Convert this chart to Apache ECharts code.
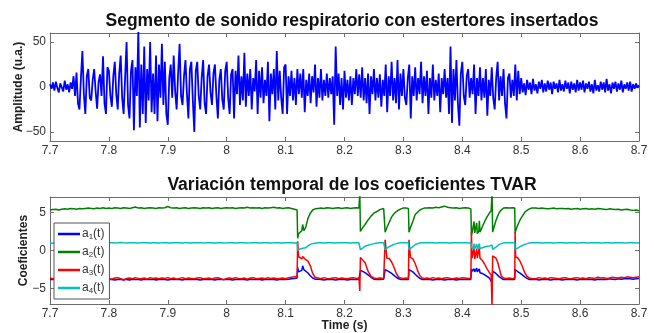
<!DOCTYPE html>
<html>
<head>
<meta charset="utf-8">
<script src="https://cdn.jsdelivr.net/npm/echarts@6/dist/echarts.min.js"></script>
<style>
  html, body { margin: 0; padding: 0; background: #fff; }
  #chart { width: 654px; height: 333px; }
</style>
</head>
<body>
<div id="chart"></div>
<script>
// señal respiratoria (muestreada cada 2.5 ms desde 7.7 s)
const timeStart = 7.7
const timeStep = 0.0025
const signal = [
  3,-2,5,-4,6,-1,-6,4,2,-5,7,-3,3,-6,5,-2,12,-10,16,-18,-25,10,40,-8,-30,12,20,-12,-15,8,20,-5,-24,6,14,-10,34,-18,-30,22,
  18,-10,-22,12,28,-8,-25,15,35,-12,-30,10,50,-20,-35,18,30,-48,22,-10,62,-45,25,-30,45,-40,20,-15,50,-28,15,-30,35,-38,25,-12,48,-20,28,-30,
  -42,10,25,-12,35,-5,-25,15,48,-10,-20,12,30,-8,-35,20,28,-15,-50,18,28,-10,-25,10,30,-18,-30,12,25,-6,-20,15,25,-10,-35,8,20,-14,-25,18,
  28,-12,-30,14,20,-35,18,-8,35,-20,12,-15,38,-22,15,-10,20,-25,10,-5,30,-30,18,-12,22,-18,8,-10,28,-38,15,-8,20,-25,40,-15,18,-12,-30,22,
  25,-30,12,-10,18,-15,10,-20,20,-8,15,-12,20,-28,8,-10,15,-18,12,-6,25,-22,10,-12,20,-15,8,-10,15,-12,10,-8,12,-42,45,-10,15,-20,10,-25,
  18,-12,8,-15,12,-20,10,-8,20,-10,14,-12,22,-15,10,-18,15,-30,12,-8,20,-15,10,-12,14,-22,8,-10,25,-28,12,-10,28,-15,10,-18,30,-25,15,-10,
  20,-12,-20,10,25,-35,12,-10,22,-15,10,-8,28,-18,12,-10,18,-30,10,-12,25,-15,8,-10,15,-28,10,-8,20,-12,10,-30,45,-40,20,-15,30,-18,-43,15,
  28,-10,-20,12,20,-12,10,-8,25,-30,10,-10,22,-15,10,-12,20,-32,8,-10,22,-12,-25,10,28,-15,12,-10,20,-18,-35,10,15,-12,8,-10,25,-15,18,-8,
  10,-6,4,-9,8,-3,5,-8,9,-4,3,-7,6,-2,8,-6,4,-5,7,-3,5,-8,6,-2,4,-6,8,-4,3,-5,7,-2,5,-7,6,-3,4,-6,8,-4,
  5,-3,7,-6,4,-2,6,-5,3,-7,8,-4,2,-5,6,-3,5,-6,9,-4,3,-7,5,-2,6,-5,4,-3,7,-6,3,-2,5,-4,6,-5,3,-2,4,-1,
  2
]

// coeficientes TVAR: instantes y valores
const tCoef = [
  7.7,7.705,7.71,7.715,7.72,7.725,7.73,7.735,7.74,7.745,
  7.75,7.755,7.76,7.765,7.77,7.775,7.78,7.785,7.79,7.795,
  7.8,7.805,7.81,7.815,7.82,7.825,7.83,7.835,7.84,7.845,
  7.85,7.855,7.86,7.865,7.87,7.875,7.88,7.885,7.89,7.895,
  7.9,7.905,7.91,7.915,7.92,7.925,7.93,7.935,7.94,7.945,
  7.95,7.955,7.96,7.965,7.97,7.975,7.98,7.985,7.99,7.995,
  8,8.005,8.01,8.015,8.02,8.025,8.03,8.035,8.04,8.045,
  8.05,8.055,8.06,8.065,8.07,8.075,8.08,8.085,8.09,8.095,
  8.1,8.105,8.11,8.115,
  8.118,8.1195,8.1205,8.122,8.125,8.1275,8.129,8.131,8.134,8.138,8.142,8.146,8.15,
  8.155,8.16,8.165,8.17,8.175,8.18,8.185,8.19,8.195,8.2,8.205,8.21,8.215,8.22,
  8.2245,8.226,8.227,8.23,8.235,8.24,8.245,8.25,8.255,8.26,8.2665,
  8.268,8.269,8.272,8.276,8.28,8.284,8.288,8.292,8.296,8.3,
  8.304,8.3085,
  8.3095,8.312,8.316,8.32,8.324,8.328,8.332,8.336,
  8.34,8.345,8.35,8.355,8.36,8.365,8.37,8.375,8.38,8.385,8.39,8.395,8.4,8.405,8.41,
  8.4145,8.4155,8.4165,8.419,8.42,8.421,8.4235,8.4245,8.4255,8.428,8.429,8.43,8.434,8.438,8.442,8.446,8.449,8.4505,8.4515,8.454,8.457,8.46,8.463,8.466,8.47,
  8.475,8.48,8.485,8.489,
  8.4897,8.4905,8.494,8.498,8.502,8.506,8.51,8.514,8.518,
  8.52,8.525,8.53,8.535,8.54,8.545,8.55,8.555,8.56,8.565,
  8.57,8.575,8.58,8.585,8.59,8.595,8.6,8.605,8.61,8.615,
  8.62,8.625,8.63,8.635,8.64,8.645,8.65,8.655,8.66,8.665,
  8.67,8.675,8.68,8.685,8.69,8.695,8.7
]

const a1 = [
  -3.8,-3.75,-3.85,-3.8,-3.75,-3.8,-3.85,-3.8,-3.75,-3.8,
  -3.85,-3.8,-3.75,-3.8,-3.85,-3.8,-3.8,-3.75,-3.85,-3.8,
  -3.75,-3.8,-3.85,-3.8,-3.75,-3.8,-3.8,-3.85,-3.75,-3.8,
  -3.8,-3.85,-3.75,-3.8,-3.8,-3.75,-3.85,-3.8,-3.75,-3.8,
  -3.85,-3.8,-3.75,-3.8,-3.8,-3.85,-3.75,-3.8,-3.8,-3.75,
  -3.8,-3.85,-3.8,-3.75,-3.8,-3.8,-3.85,-3.75,-3.8,-3.8,
  -3.75,-3.8,-3.85,-3.8,-3.75,-3.8,-3.8,-3.85,-3.75,-3.8,
  -3.8,-3.75,-3.85,-3.8,-3.8,-3.75,-3.8,-3.85,-3.8,-3.75,
  -3.8,-3.75,-3.7,-3.65,
  -3.65,-3.6,-2.2,-2.8,-2.75,-2.6,-2.0,-2.5,-2.7,-2.95,-3.3,-3.6,-3.75,
  -3.75,-3.8,-3.85,-3.8,-3.75,-3.8,-3.85,-3.8,-3.75,-3.8,-3.85,-3.8,-3.75,-3.8,
  -3.8,-4.0,-2.6,-2.7,-2.9,-3.2,-3.5,-3.75,-3.8,-3.8,-3.75,
  -3.8,-2.5,-2.6,-2.8,-3.0,-3.25,-3.5,-3.7,-3.8,-3.8,
  -3.75,-3.8,
  -2.5,-2.6,-2.8,-3.1,-3.4,-3.65,-3.8,-3.8,
  -3.75,-3.8,-3.85,-3.8,-3.75,-3.8,-3.85,-3.8,-3.75,-3.8,-3.85,-3.8,-3.75,-3.8,-3.8,
  -3.8,-2.4,-2.7,-2.8,-2.4,-2.8,-2.75,-2.3,-2.8,-2.7,-2.4,-2.9,-3.0,-3.2,-3.4,-3.6,-3.7,-4.2,-2.7,-2.8,-3.0,-3.2,-3.45,-3.65,-3.8,
  -3.8,-3.75,-3.8,-3.8,
  -2.5,-2.6,-2.75,-2.95,-3.2,-3.45,-3.65,-3.8,-3.8,
  -3.8,-3.75,-3.85,-3.8,-3.75,-3.8,-3.85,-3.8,-3.75,-3.8,
  -3.85,-3.8,-3.75,-3.8,-3.8,-3.85,-3.75,-3.8,-3.8,-3.75,
  -3.8,-3.85,-3.75,-3.8,-3.75,-3.8,-3.7,-3.75,-3.8,-3.7,
  -3.75,-3.7,-3.65,-3.7,-3.75,-3.7,-3.65
]

const a2 = [
  5.3,5.35,5.4,5.3,5.4,5.45,5.4,5.5,5.45,5.4,
  5.5,5.45,5.5,5.55,5.5,5.45,5.55,5.5,5.6,5.5,
  5.55,5.5,5.6,5.55,5.5,5.6,5.55,5.5,5.6,5.7,
  5.55,5.6,5.5,5.55,5.6,5.55,5.5,5.6,5.55,5.6,
  5.75,5.6,5.55,5.6,5.5,5.55,5.6,5.5,5.55,5.6,
  5.55,5.5,5.6,5.55,5.6,5.5,5.55,5.6,5.5,5.55,
  5.6,5.55,5.6,5.5,5.55,5.6,5.55,5.65,5.55,5.6,
  5.55,5.6,5.5,5.6,5.55,5.6,5.65,5.55,5.6,5.5,
  5.55,5.6,5.5,5.4,
  5.35,5.3,1.6,2.2,2.4,2.6,3.4,2.6,3.0,4.2,4.9,5.3,5.45,
  5.5,5.55,5.5,5.6,5.55,5.5,5.55,5.6,5.5,5.55,5.6,5.5,5.55,5.6,
  5.55,7.6,2.5,2.9,3.4,4.0,4.5,4.9,5.1,5.35,5.5,
  5.5,2.4,3.0,3.7,4.4,4.8,5.1,5.3,5.45,5.55,
  5.55,5.5,
  2.4,3.0,3.8,4.7,5.0,5.3,5.45,5.55,
  5.55,5.6,5.55,5.65,5.6,5.7,5.8,5.65,5.6,5.55,5.6,5.5,5.55,5.6,5.55,
  5.45,2.0,2.3,2.4,3.8,2.3,2.4,3.6,2.2,2.5,3.9,2.4,3.1,3.8,4.4,4.9,5.2,7.6,2.4,3.1,3.9,4.5,5.0,5.3,5.55,
  5.6,5.55,5.6,5.55,
  2.2,2.6,3.3,4.0,4.5,5.0,5.25,5.45,5.55,
  5.6,5.55,5.5,5.55,5.5,5.45,5.5,5.55,5.45,5.5,
  5.5,5.45,5.5,5.4,5.45,5.5,5.4,5.45,5.5,5.4,
  5.45,5.4,5.5,5.45,5.4,5.35,5.45,5.4,5.35,5.4,
  5.3,5.35,5.4,5.3,5.25,5.3,5.2
]

const a3 = [
  -3.6,-3.7,-3.55,-3.65,-3.75,-3.6,-3.5,-3.7,-3.65,-3.55,
  -3.7,-3.6,-3.75,-3.55,-3.65,-3.7,-3.6,-3.5,-3.7,-3.6,
  -3.65,-3.75,-3.6,-3.55,-3.7,-3.9,-3.65,-3.6,-3.7,-3.55,
  -3.65,-3.7,-3.6,-3.75,-3.55,-3.65,-3.6,-3.7,-3.6,-3.65,
  -3.55,-3.7,-3.6,-3.75,-3.65,-3.55,-3.7,-3.6,-3.65,-3.7,
  -3.6,-3.55,-3.7,-3.65,-3.6,-3.75,-3.6,-3.55,-3.7,-3.85,
  -3.65,-3.6,-3.7,-3.55,-3.65,-3.7,-3.6,-3.75,-3.6,-3.55,
  -3.7,-3.65,-3.6,-3.7,-3.55,-3.65,-3.6,-3.7,-3.65,-3.6,
  -3.7,-3.55,-3.5,-3.45,
  -3.45,-3.45,1.2,-0.8,-0.9,-1.1,-0.8,-1.0,-1.2,-1.4,-2.0,-3.0,-3.5,
  -3.6,-3.7,-3.55,-3.65,-3.7,-3.6,-3.55,-3.7,-3.6,-3.65,-3.7,-3.6,-3.55,-3.65,
  -3.6,-5.3,-0.9,-0.95,-1.6,-2.7,-3.4,-3.6,-3.65,-3.6,-3.65,
  -3.6,1.4,-1.0,-1.05,-1.5,-2.2,-3.0,-3.5,-3.6,-3.65,
  -3.6,-3.65,
  1.4,-0.9,-1.1,-1.7,-2.6,-3.3,-3.6,-3.65,
  -3.6,-3.7,-3.55,-3.65,-3.6,-3.7,-3.6,-3.55,-3.65,-3.7,-3.6,-3.65,-3.55,-3.6,-3.65,
  -3.6,2.4,-1.0,-1.2,0.3,-1.1,-1.2,0.2,-1.0,-1.1,0.4,-1.0,-1.3,-1.8,-2.4,-2.9,-3.2,-7.5,-0.7,-0.8,-1.0,-1.5,-2.4,-3.3,-3.6,
  -3.65,-3.6,-3.7,-3.6,
  2.4,-0.85,-0.95,-1.4,-2.1,-2.9,-3.4,-3.6,-3.65,
  -3.6,-3.7,-3.55,-3.65,-3.6,-3.7,-3.55,-3.6,-3.65,-3.7,
  -3.6,-3.55,-3.65,-3.7,-3.6,-3.55,-3.65,-3.6,-3.7,-3.55,
  -3.6,-3.65,-3.5,-3.6,-3.55,-3.65,-3.6,-3.5,-3.55,-3.6,
  -3.5,-3.55,-3.45,-3.5,-3.55,-3.5,-3.45
]

const a4 = [
  1.0,0.95,1.0,1.05,1.0,0.97,1.0,1.03,1.0,0.96,
  1.02,1.0,0.97,1.0,1.04,1.0,0.98,1.0,1.03,0.97,
  1.0,1.02,0.98,1.0,1.04,1.0,0.97,1.0,1.02,1.0,
  0.98,1.0,1.03,1.0,0.97,1.02,1.0,0.98,1.0,1.03,
  1.0,0.97,1.0,1.02,1.0,0.98,1.03,1.0,0.97,1.0,
  1.02,1.0,0.98,1.0,1.03,1.0,0.97,1.0,1.02,0.98,
  1.0,1.03,1.0,0.97,1.0,1.02,1.0,0.98,1.0,1.03,
  1.0,0.97,1.0,1.02,1.0,0.98,1.0,1.03,1.0,0.97,
  1.0,1.02,1.0,0.98,
  1.0,1.0,0.0,0.15,0.2,0.2,0.3,0.25,0.35,0.6,0.8,0.9,0.95,
  1.0,1.0,0.97,1.0,1.03,1.0,0.97,1.0,1.0,1.03,1.0,0.97,1.0,1.0,
  1.0,1.0,0.1,0.25,0.55,0.7,0.8,0.9,0.97,1.0,1.0,
  1.0,0.1,0.3,0.5,0.65,0.8,0.9,0.97,1.0,1.0,
  1.0,1.0,
  0.1,0.25,0.5,0.75,0.9,0.97,1.0,1.0,
  1.0,1.03,1.0,0.97,1.0,1.0,1.03,1.0,0.97,1.0,1.0,1.03,1.0,1.0,0.97,
  1.0,0.4,0.25,0.2,0.9,0.2,0.25,0.85,0.2,0.3,0.9,0.25,0.35,0.45,0.55,0.6,0.65,0.7,0.15,0.25,0.45,0.65,0.8,0.92,1.0,
  1.0,1.0,1.03,1.0,
  0.2,0.15,0.3,0.5,0.65,0.8,0.9,0.97,1.0,
  1.0,1.03,1.0,0.97,1.0,1.02,1.0,0.98,1.0,1.03,
  1.0,0.97,1.0,1.02,1.0,0.98,1.0,1.03,1.0,0.97,
  1.0,1.02,1.0,0.98,1.0,1.03,1.0,0.97,1.0,1.02,
  1.0,0.98,1.0,1.03,1.0,0.97,1.0
]

const coefNames = ['a1(t)', 'a2(t)', 'a3(t)', 'a4(t)']
const coefColors = ['#0000ff', '#008000', '#ff0000', '#00bfbf']
const ampTicks = [-50, 0, 50]
const coefTicks = [-5, 0, 5]

const chart = echarts.init(document.getElementById('chart'))

const axisColor = '#6e6e6e'
const labelColor = '#333'
const font = '"Liberation Sans", Arial, Helvetica, sans-serif'

const fmtTime = v => String(Math.round(v * 10) / 10)
const fmtNum = v => String(v).replace('-', '\u2212')

// eje x (principal o espejo arriba)
const makeX = (gridIndex, mirror, name) => ({
  type: 'value',
  gridIndex,
  position: mirror ? 'top' : 'bottom',
  min: 7.7,
  max: 8.7,
  interval: 0.1,
  name: name || '',
  nameLocation: 'middle',
  nameGap: 16,
  nameMoveOverlap: false,
  nameTextStyle: { fontFamily: font, fontSize: 12, fontWeight: 'bold', color: '#222' },
  axisLine: { show: true, onZero: false, lineStyle: { color: axisColor } },
  axisTick: { show: true, inside: true, length: 4, lineStyle: { color: axisColor } },
  axisLabel: { show: !mirror, margin: 4, fontFamily: font, fontSize: 12, color: labelColor, formatter: fmtTime },
  splitLine: { show: false }
})

// eje y (principal o espejo a la derecha)
const makeY = (gridIndex, mirror, min, max, ticks, name, gap) => ({
  type: 'value',
  gridIndex,
  position: mirror ? 'right' : 'left',
  min,
  max,
  name: name || '',
  nameLocation: 'middle',
  nameGap: gap || 0,
  nameMoveOverlap: false,
  nameTextStyle: { fontFamily: font, fontSize: 12, fontWeight: 'bold', color: '#222' },
  axisLine: { show: true, onZero: false, lineStyle: { color: axisColor } },
  axisTick: { show: true, inside: true, length: 4, customValues: ticks, lineStyle: { color: axisColor } },
  axisLabel: { show: !mirror, margin: 4, fontFamily: font, fontSize: 12, color: labelColor, customValues: ticks, formatter: fmtNum },
  splitLine: { show: false }
})

const option = {
  animation: false,
  title: [
    {
      text: 'Segmento de sonido respiratorio con estertores insertados',
      left: 347, top: 7, textAlign: 'center',
      textStyle: { fontFamily: font, fontSize: 17.5, fontWeight: 'bold', color: '#111' }
    },
    {
      text: 'Variación temporal de los coeficientes TVAR',
      left: 347, top: 171, textAlign: 'center',
      textStyle: { fontFamily: font, fontSize: 17.5, fontWeight: 'bold', color: '#111' }
    }
  ],
  grid: [
    { left: 50, right: 15, top: 33, height: 108, outerBoundsMode: 'none' },
    { left: 50, right: 15, top: 197, height: 107, outerBoundsMode: 'none' }
  ],
  xAxis: [
    makeX(0, false),
    makeX(0, true),
    makeX(1, false, 'Time (s)'),
    makeX(1, true)
  ],
  yAxis: [
    makeY(0, false, -60, 60, ampTicks, 'Amplitude (u.a.)', 25),
    makeY(0, true, -60, 60, ampTicks),
    makeY(1, false, -7, 7, coefTicks, 'Coeficientes', 20),
    makeY(1, true, -7, 7, coefTicks)
  ],
  legend: {
    data: coefNames,
    orient: 'vertical',
    left: 54,
    top: 223,
    icon: 'rect',
    itemWidth: 22,
    itemHeight: 2.5,
    itemGap: 5,
    padding: [5, 5, 4, 4],
    backgroundColor: '#fff',
    borderColor: '#555',
    borderWidth: 1,
    borderRadius: 0,
    formatter: n => 'a{sub|' + n.charAt(1) + '}(t)',
    textStyle: {
      fontFamily: font, fontSize: 12, color: labelColor, padding: [0, 0, 0, -3],
      rich: { sub: { fontFamily: font, fontSize: 8, color: labelColor, padding: [6, 0, 0, 0] } }
    }
  },
  series: [
    {
      type: 'line',
      xAxisIndex: 0,
      yAxisIndex: 0,
      showSymbol: false,
      symbol: 'none',
      lineStyle: { color: '#0000ff', width: 1.8 },
      data: signal.map((v, i) => [timeStart + i * timeStep, v])
    },
    ...[a1, a2, a3, a4].map((vals, k) => ({
      name: coefNames[k],
      type: 'line',
      xAxisIndex: 2,
      yAxisIndex: 2,
      showSymbol: false,
      symbol: 'none',
      itemStyle: { color: coefColors[k] },
      lineStyle: { color: coefColors[k], width: 1.5 },
      data: tCoef.map((t, i) => [t, vals[i]])
    }))
  ]
}

chart.setOption(option)
</script>
</body>
</html>
